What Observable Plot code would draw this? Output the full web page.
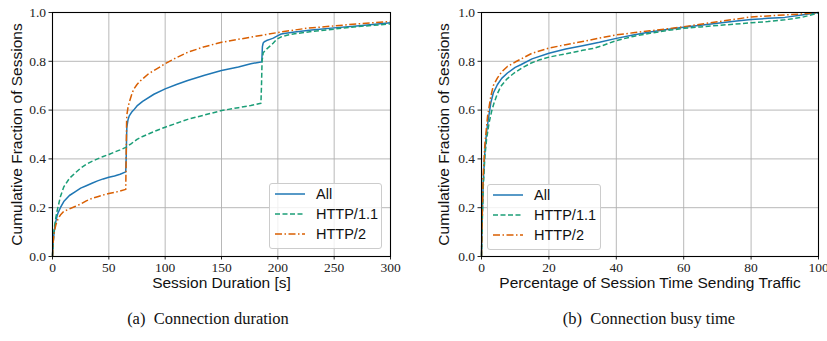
<!DOCTYPE html>
<html>
<head>
<meta charset="utf-8">
<script src="https://cdn.jsdelivr.net/npm/d3@7"></script>
<script src="https://cdn.jsdelivr.net/npm/@observablehq/plot@0.6"></script>
<style>
  html, body { margin: 0; padding: 0; background: #fff; }
  #page { position: relative; width: 827px; height: 341px; overflow: hidden; background: #fff; }
  .panel { position: absolute; top: 0; }
  .caption { position: absolute; font-family: "Liberation Serif", serif; font-size: 16.5px; line-height: 16px; white-space: nowrap; transform: translateX(-50%); color: #111; }
  .legend { position: absolute; box-sizing: border-box; border: 1px solid #cccccc; border-radius: 3px; background: rgba(255,255,255,0.8); }
  .legend .row { position: absolute; left: 0; height: 20px; display: flex; align-items: center; font-family: "Liberation Sans", sans-serif; font-size: 14.5px; color: #111; white-space: nowrap; }
  .legend svg { display: block; margin-left: 5px; margin-right: 11px; }
  .tick-serif { font-family: "Liberation Serif", serif !important; font-size: 13.5px !important; }
</style>
</head>
<body>
<div id="page"></div>
<script>
// ---------- data ----------
const series = ["All", "HTTP/1.1", "HTTP/2"];
const colors = ["#1f77b4", "#1b9e77", "#d95f02"];
const dashes = [null, "5,2.5", "7,2.5,1.5,2.5"];
const yTicks = [0, 0.2, 0.4, 0.6, 0.8, 1.0];

// (a) Connection duration
const durTicks = [0, 50, 100, 150, 200, 250, 300];
const durAllX = [0,0.5,1,2,3,4,5,7,10,15,20,25,30,35,40,45,50,55,60,65,65.5,65.8,66,67,68,70,72,75,80,90,100,110,120,135,150,165,176,185,185.8,186.3,187,188,190,193,196,200,203,207,215,230,250,270,300];
const durAllY = [0,0.05,0.08,0.12,0.145,0.165,0.18,0.2,0.225,0.25,0.265,0.28,0.29,0.3,0.31,0.318,0.325,0.33,0.337,0.347,0.42,0.5,0.53,0.56,0.575,0.59,0.6,0.617,0.636,0.665,0.687,0.705,0.721,0.743,0.762,0.777,0.79,0.797,0.8,0.86,0.875,0.88,0.885,0.89,0.895,0.905,0.912,0.915,0.92,0.928,0.937,0.945,0.958];
const durH1X = [0,0.5,1,2,3,4,5,7,10,15,20,25,30,35,40,45,50,55,60,65,70,75,80,90,100,110,120,135,150,165,176,185,185.5,186,187,190,193,196,199,203,208,215,230,250,270,300];
const durH1Y = [0,0.05,0.09,0.13,0.16,0.185,0.205,0.245,0.285,0.32,0.342,0.362,0.378,0.39,0.4,0.41,0.418,0.428,0.437,0.447,0.463,0.48,0.492,0.512,0.53,0.546,0.562,0.58,0.598,0.61,0.619,0.628,0.7,0.8,0.835,0.85,0.862,0.875,0.89,0.9,0.907,0.913,0.922,0.932,0.942,0.953];
const durH2X = [0,0.5,1,2,3,5,7,10,15,20,25,30,35,40,45,50,55,60,65,65.5,65.8,66,67,68,70,72,75,78,85,90,100,110,120,135,150,165,176,190,200,210,225,250,275,300];
const durH2Y = [0,0.05,0.08,0.11,0.13,0.155,0.17,0.185,0.195,0.205,0.215,0.228,0.238,0.245,0.252,0.258,0.263,0.268,0.275,0.45,0.56,0.58,0.61,0.63,0.66,0.685,0.705,0.72,0.748,0.762,0.79,0.815,0.837,0.86,0.878,0.89,0.899,0.91,0.918,0.925,0.935,0.945,0.955,0.963];

// (b) Connection busy time
const busyTicks = [0, 20, 40, 60, 80, 100];
const busyAllX = [0,0.2,0.5,1,1.5,2,2.76,3.5,4.7,6,7.7,10,11.65,15,20,25,30,35,40,45,50,55,60,65,70,75,80,85,90,95,100];
const busyAllY = [0,0.15,0.3,0.43,0.51,0.56,0.63,0.67,0.704,0.73,0.752,0.775,0.786,0.81,0.833,0.85,0.864,0.878,0.894,0.908,0.92,0.93,0.94,0.948,0.956,0.964,0.971,0.976,0.98,0.99,1.0];
const busyH1X = [0,0.2,0.5,1,1.5,2.25,3,3.74,4.7,5.73,7.5,9.68,12,14.6,17,20,25,30,33,36,40,45,50,55,60,65,70,75,80,85,90,95,100];
const busyH1Y = [0,0.13,0.28,0.41,0.48,0.548,0.595,0.63,0.667,0.697,0.727,0.752,0.773,0.792,0.805,0.817,0.831,0.845,0.852,0.865,0.885,0.902,0.915,0.926,0.935,0.941,0.947,0.952,0.958,0.963,0.97,0.98,0.998];
const busyH2X = [0,0.2,0.5,1,1.5,1.8,2.76,3.5,4.7,6,7.7,10,11.65,15,20,25,30,35,40,45,50,55,60,65,70,75,80,85,90,95,100];
const busyH2Y = [0,0.17,0.33,0.46,0.53,0.575,0.656,0.7,0.731,0.757,0.779,0.797,0.809,0.833,0.854,0.868,0.881,0.895,0.908,0.917,0.925,0.933,0.942,0.952,0.962,0.972,0.982,0.986,0.99,0.994,1.0];

// ---------- drawing ----------
const page = document.getElementById("page");
const toRows = (xs, ys) => xs.map((x, i) => ({x, y: ys[i]}));

function panel({left, width, marginLeft, marginRight, xDomain, xTicks, xLabel, yLabelDx, data, legend}) {
  const lines = data.map((d, i) => Plot.line(toRows(d[0], d[1]), {
    x: "x", y: "y", stroke: colors[i], strokeWidth: 1.5,
    strokeDasharray: dashes[i] || undefined, strokeLinejoin: "round", strokeLinecap: "butt"
  }));
  const chart = Plot.plot({
    width, height: 300,
    marginLeft, marginRight, marginTop: 12, marginBottom: 44,
    style: {fontFamily: "Liberation Serif, serif", fontSize: "13.5px", color: "#222", background: "transparent", overflow: "visible"},
    x: {domain: xDomain, ticks: xTicks, tickSize: 3.5, tickPadding: 2.5, label: null, tickFormat: d3.format("d")},
    y: {domain: [0, 1], ticks: yTicks, tickSize: 3.5, tickPadding: 3, label: null, tickFormat: d3.format(".1f")},
    marks: [
      Plot.ruleX(xTicks, {stroke: "#b0b0b0", strokeWidth: 0.9}),
      Plot.ruleY(yTicks, {stroke: "#b0b0b0", strokeWidth: 0.9}),
      ...lines,
      Plot.frame({stroke: "#000", strokeWidth: 1.1}),
      Plot.text([xLabel], {frameAnchor: "bottom", lineAnchor: "top", textAnchor: "middle", dy: 20, fontFamily: "Liberation Sans, sans-serif", fontSize: 15.5, fill: "#111"}),
      Plot.text(["Cumulative Fraction of Sessions"], {frameAnchor: "left", textAnchor: "middle", lineAnchor: "middle", rotate: -90, dx: yLabelDx, fontFamily: "Liberation Sans, sans-serif", fontSize: 15.5, fill: "#111"})
    ]
  });
  // tick labels in a serif face
  d3.select(chart).selectAll("text")
    .filter(function() { return /^[0-9.]+$/.test(this.textContent.trim()); })
    .classed("tick-serif", true);
  chart.classList.add("panel");
  chart.style.left = left + "px";
  page.appendChild(chart);

  // legend
  const lg = document.createElement("div");
  lg.className = "legend";
  lg.style.left = legend.left + "px";
  lg.style.top = legend.top + "px";
  lg.style.width = legend.width + "px";
  lg.style.height = legend.height + "px";
  series.forEach((name, i) => {
    const row = document.createElement("div");
    row.className = "row";
    row.style.top = (0 + i * 20) + "px";
    const sw = d3.create("svg").attr("width", 30).attr("height", 10);
    sw.append("line").attr("x1", 0).attr("x2", 30).attr("y1", 5).attr("y2", 5)
      .attr("stroke", colors[i]).attr("stroke-width", 1.5)
      .attr("stroke-dasharray", dashes[i]);
    row.appendChild(sw.node());
    const t = document.createElement("span");
    t.textContent = name;
    row.appendChild(t);
    lg.appendChild(row);
  });
  page.appendChild(lg);
}

panel({
  left: 0, width: 410, marginLeft: 52, marginRight: 20,
  xDomain: [0, 300], xTicks: durTicks, xLabel: "Session Duration [s]", yLabelDx: -35,
  data: [[durAllX, durAllY], [durH1X, durH1Y], [durH2X, durH2Y]],
  legend: {left: 269, top: 183, width: 113, height: 66}
});
panel({
  left: 410, width: 417, marginLeft: 71, marginRight: 9,
  xDomain: [0, 100], xTicks: busyTicks, xLabel: "Percentage of Session Time Sending Traffic", yLabelDx: -37,
  data: [[busyAllX, busyAllY], [busyH1X, busyH1Y], [busyH2X, busyH2Y]],
  legend: {left: 487, top: 184, width: 114, height: 66}
});

const captions = [["(a)\u2002Connection duration", 208], ["(b)\u2002Connection busy time", 649]];
captions.forEach(([txt, cx]) => {
  const c = document.createElement("div");
  c.className = "caption";
  c.textContent = txt;
  c.style.left = cx + "px";
  c.style.top = "311px";
  page.appendChild(c);
});
</script>
</body>
</html>
